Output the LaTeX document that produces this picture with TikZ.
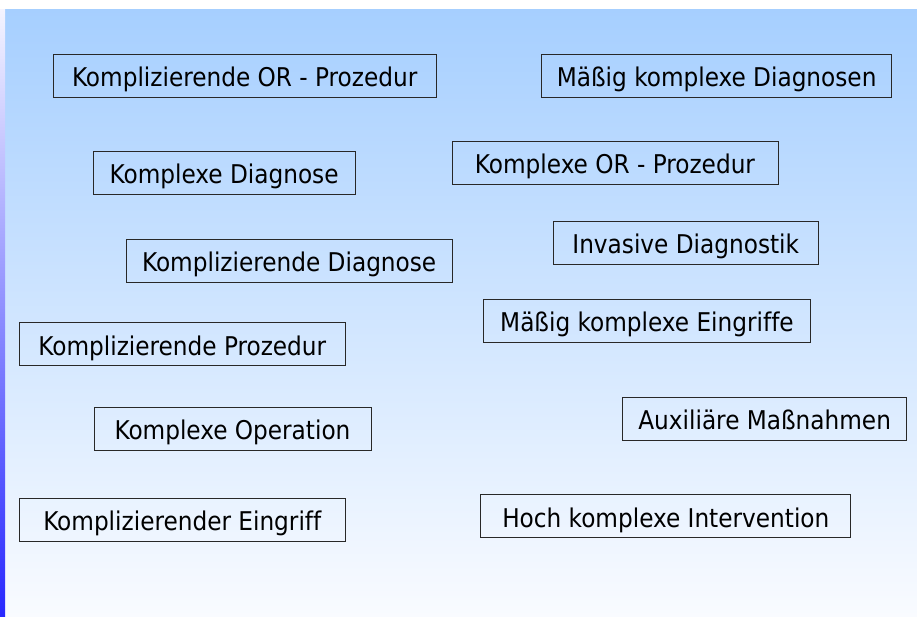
\documentclass[tikz,border=0pt]{standalone}
\usepackage{fontspec}
\setmainfont[Ligatures=NoCommon]{DejaVu Sans Condensed}
\definecolor{bgtop}{RGB}{166,207,255}
\definecolor{bgbot}{RGB}{249,251,255}
\definecolor{striptop}{RGB}{244,244,255}
\definecolor{stripbot}{RGB}{40,40,255}
\definecolor{boxline}{RGB}{40,40,40}
\tikzset{
  label box/.style={draw=boxline, line width=0.9pt, minimum height=43pt,
    inner sep=0pt, font=\fontsize{25.8}{31}\selectfont,
    text height=21.8pt, text depth=0pt, anchor=center}
}
\begin{document}
\begin{tikzpicture}[x=1pt,y=-1pt]
\useasboundingbox (0,0) rectangle (917,616);
\fill[white] (0,0) rectangle (917,616);
\shade[top color=bgtop, bottom color=bgbot] (5,9) rectangle (917,616);
\shade[top color=striptop, bottom color=stripbot] (0,9) rectangle (5,616);

\node[label box, minimum width=382.7pt] (n1) at (244.7,75.8) {Komplizierende OR - Prozedur};
\node[label box, minimum width=350pt] (n2) at (716.7,75.8) {Mäßig komplexe Diagnosen};
\node[label box, minimum width=262pt] (n3) at (224.2,172.5) {Komplexe Diagnose};
\node[label box, minimum width=326pt] (n4) at (615,163) {Komplexe OR - Prozedur};
\node[label box, minimum width=265pt] (n5) at (685.8,242.5) {Invasive Diagnostik};
\node[label box, minimum width=326pt] (n6) at (289.2,260.7) {Komplizierende Diagnose};
\node[label box, minimum width=327pt] (n7) at (647,320.5) {Mäßig komplexe Eingriffe};
\node[label box, minimum width=326pt] (n8) at (182.3,344.2) {Komplizierende Prozedur};
\node[label box, minimum width=277pt] (n9) at (232.5,428.5) {Komplexe Operation};
\node[label box, minimum width=284pt] (n10) at (764.7,418.7) {Auxiliäre Maßnahmen};
\node[label box, minimum width=326pt] (n11) at (182.3,520) {Komplizierender Eingriff};
\node[label box, minimum width=370pt] (n12) at (665.8,516.3) {Hoch komplexe Intervention};
\end{tikzpicture}
\end{document}
